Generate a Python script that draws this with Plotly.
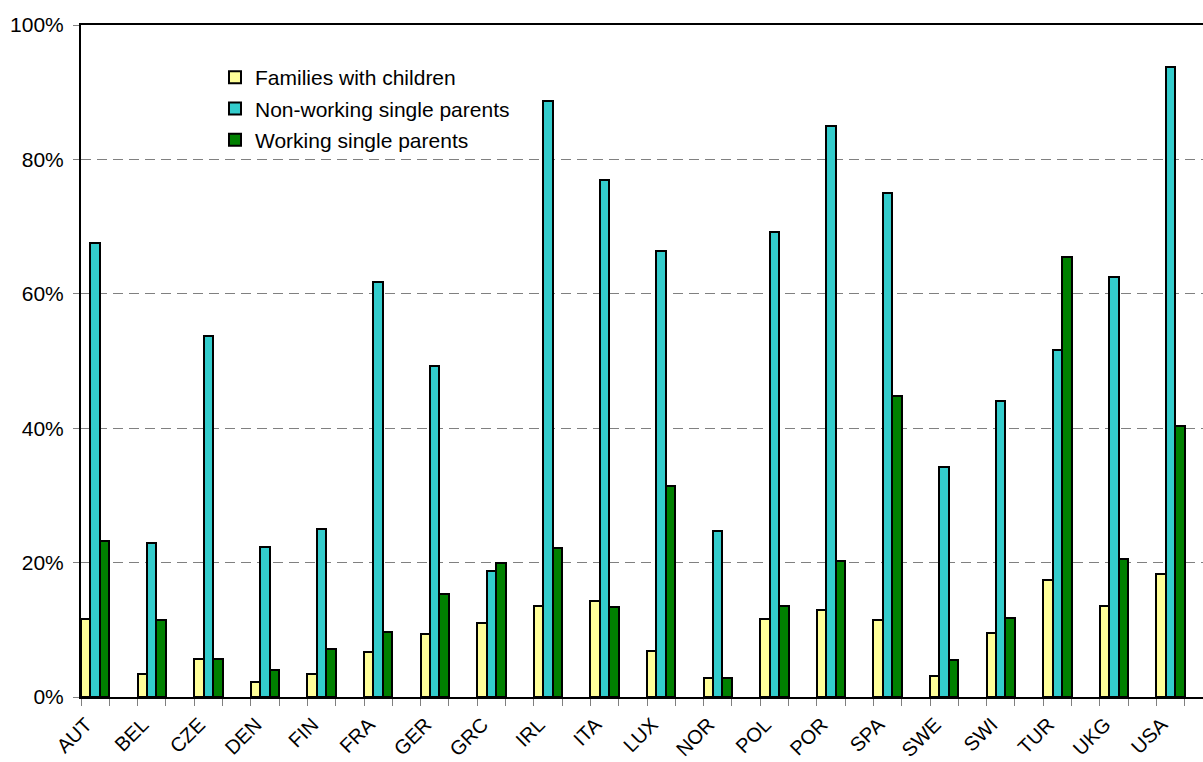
import plotly.graph_objects as go

countries = ["AUT", "BEL", "CZE", "DEN", "FIN", "FRA", "GER", "GRC", "IRL", "ITA",
             "LUX", "NOR", "POL", "POR", "SPA", "SWE", "SWI", "TUR", "UKG", "USA"]

families_with_children = [11.6, 3.4, 5.6, 2.2, 3.4, 6.7, 9.4, 11.0, 13.5, 14.3,
                          6.8, 2.8, 11.6, 13.0, 11.4, 3.2, 9.5, 17.4, 13.6, 18.3]
nonworking_single = [67.6, 22.9, 53.7, 22.3, 25.0, 61.7, 49.3, 18.8, 88.7, 76.9,
                     66.4, 24.7, 69.2, 84.9, 75.0, 34.2, 44.1, 51.6, 62.5, 93.8]
working_single = [23.2, 11.5, 5.6, 4.0, 7.2, 9.6, 15.3, 20.0, 22.1, 13.4,
                  31.4, 2.8, 13.6, 20.3, 44.8, 5.5, 11.8, 65.5, 20.5, 40.3]

series_names = ["Families with children", "Non-working single parents", "Working single parents"]
series_values = [families_with_children, nonworking_single, working_single]
series_colors = ["#FFFF99", "#33CCCC", "#008000"]

y_tickvals = [0, 20, 40, 60, 80, 100]
y_ticktext = ["0%", "20%", "40%", "60%", "80%", "100%"]

FONT = "Liberation Sans, Arial, sans-serif"
n = len(countries)
slot = 1.0 / 6.0  # each category split into 6 bar slots (3 used)

fig = go.Figure()
for k, (name, vals, col) in enumerate(zip(series_names, series_values, series_colors)):
    xs = [i + (k + 0.5) * slot for i in range(n)]
    fig.add_trace(go.Bar(
        x=xs, y=vals, name=name, width=slot,
        marker=dict(color=col, line=dict(color="black", width=2)),
        legendgroup=name,
    ))

W, H = 1203, 762
L, T, B, R = 81, 25, 65, 0
plot_w = W - L - R
plot_h = H - T - B
cat_px = 56.6
x_end = plot_w / cat_px

fig.update_layout(
    width=W, height=H,
    margin=dict(l=L, r=R, t=T, b=B, pad=0, autoexpand=False),
    paper_bgcolor="white", plot_bgcolor="white",
    font=dict(family=FONT, size=20, color="black"),
    barmode="overlay",
    bargap=0,
    showlegend=True,
    legend=dict(
        x=(215 - L) / plot_w, y=(H - B - 57) / plot_h,
        xanchor="left", yanchor="top",
        bgcolor="rgba(0,0,0,0)", borderwidth=0,
        font=dict(family=FONT, size=21, color="black"),
        tracegroupgap=1,
        itemwidth=30,
    ),
    xaxis=dict(
        range=[0, x_end],
        automargin=False,
        tickmode="array",
        tickvals=[i + 0.25 - 9 / cat_px for i in range(n)],
        ticktext=countries,
        tickangle=-45,
        ticks="",
        ticklabelstandoff=6,
        showgrid=False,
        showline=True, linecolor="black", linewidth=2,
        mirror=True,
        zeroline=False,
        tickfont=dict(family=FONT, size=20, color="black"),
        minor=dict(
            tickmode="array",
            tickvals=[i * 0.5 for i in range(2 * n + 1)],
            ticks="outside", ticklen=7, tickwidth=1, tickcolor="#808080",
            showgrid=False,
        ),
    ),
    yaxis=dict(
        range=[0, 100],
        automargin=False,
        tickmode="array",
        tickvals=y_tickvals,
        ticktext=y_ticktext,
        ticks="outside", ticklen=6, tickwidth=1, tickcolor="#808080",
        ticklabelstandoff=5,
        showgrid=True, gridcolor="#808080", gridwidth=1, griddash="10px,6px",
        showline=True, linecolor="black", linewidth=2,
        zeroline=False,
        tickfont=dict(family=FONT, size=21, color="black"),
    ),
)

fig.write_html("out.html")
